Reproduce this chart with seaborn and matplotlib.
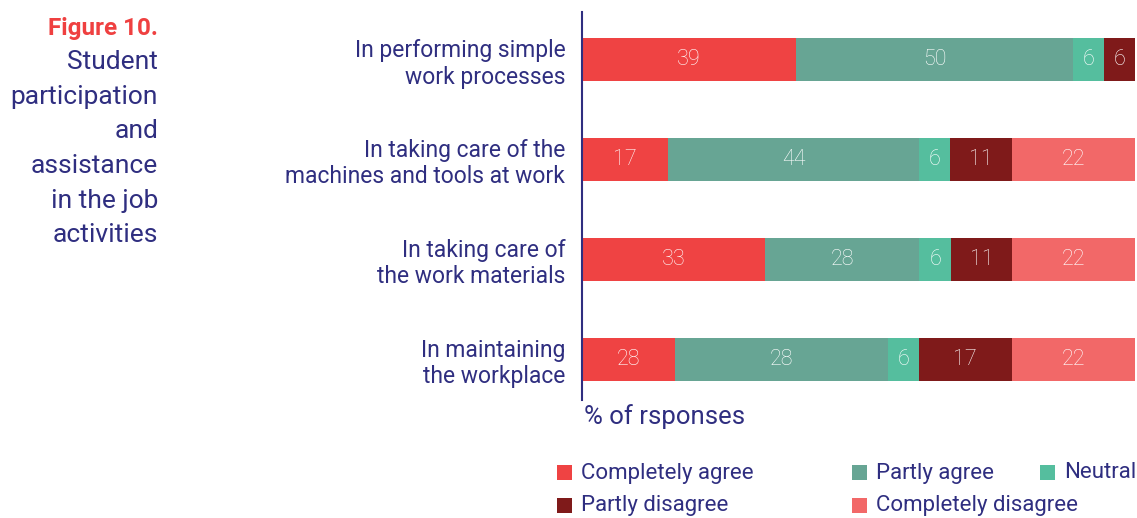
import matplotlib
matplotlib.use("Agg")
import matplotlib.pyplot as plt
from matplotlib.patches import Rectangle
import seaborn as sns
import pandas as pd
import numpy as np

# ---- data ----
categories = [
    "In performing simple\nwork processes",
    "In taking care of the\nmachines and tools at work",
    "In taking care of\nthe work materials",
    "In maintaining\nthe workplace",
]
series = ["Completely agree", "Partly agree", "Neutral", "Partly disagree", "Completely disagree"]
# segment widths as drawn in the picture (% of responses)
completely_agree = [38.7, 15.6, 33.1, 16.8]
partly_agree = [50.1, 45.4, 27.9, 38.5]
neutral = [5.6, 5.6, 5.8, 5.6]
partly_disagree = [5.6, 11.2, 10.9, 16.8]
completely_disagree = [0.0, 22.2, 22.3, 22.3]
# printed value labels
label_ca = ["39", "17", "33", "28"]
label_pa = ["50", "44", "28", "28"]
label_ne = ["6", "6", "6", "6"]
label_pd = ["6", "11", "11", "17"]
label_cd = ["", "22", "22", "22"]

colors = ["#EF4343", "#67A594", "#55BE9E", "#7F1A1A", "#F26868"]
navy = "#2F2E80"
red_title = "#EF4040"

sns.set_theme(style="white")
plt.rcParams["font.family"] = ["Roboto", "DejaVu Sans"]

values = [completely_agree, partly_agree, neutral, partly_disagree, completely_disagree]
labels = [label_ca, label_pa, label_ne, label_pd, label_cd]
cum = np.cumsum(np.array(values), axis=0)

fig = plt.figure(figsize=(11.37, 5.18), dpi=100)
ax = fig.add_axes([582 / 1137, 1 - 400 / 518, 553 / 1137, 388 / 518])

# overlay cumulative bars, largest first
for i in range(len(series) - 1, -1, -1):
    df = pd.DataFrame({"category": categories, "value": cum[i]})
    sns.barplot(data=df, x="value", y="category", orient="h", color=colors[i],
                width=0.43, saturation=1, ax=ax, linewidth=0)

for i in range(len(series)):
    for j in range(len(categories)):
        w = values[i][j]
        if w <= 0:
            continue
        ax.text(cum[i][j] - w / 2, j, labels[i][j], ha="center", va="center",
                color="white", fontsize=15.5, fontweight="light")

ax.set_xlim(0, 100)
ax.set_ylim(3.41, -0.475)
ax.set_xlabel("")
ax.set_ylabel("")
ax.set_xticks([])
for s in ["top", "right", "bottom"]:
    ax.spines[s].set_visible(False)
ax.spines["left"].set_color(navy)
ax.spines["left"].set_linewidth(1.5)
ax.tick_params(axis="y", length=0, pad=12, labelsize=16.5, labelcolor=navy)
for t in ax.get_yticklabels():
    t.set_fontweight("normal")
    t.set_linespacing(1.2)

# title block
fig.text(158 / 1137, 1 - 28 / 518, "Figure 10.", ha="right", va="center",
         color=red_title, fontsize=17.5, fontweight="bold")
title_lines = ["Student", "participation", "and", "assistance", "in the job", "activities"]
ys = [62, 97, 131, 166, 201, 235]
for line, yy in zip(title_lines, ys):
    fig.text(158 / 1137, 1 - yy / 518, line, ha="right", va="center",
             color=navy, fontsize=19, fontweight="normal")

fig.text(584 / 1137, 1 - 417 / 518, "% of rsponses", ha="left", va="center",
         color=navy, fontsize=18.5, fontweight="normal")

# legend (manual placement)
leg_pos = {
    "Completely agree": (557, 472),
    "Partly agree": (852, 472),
    "Neutral": (1040, 472),
    "Partly disagree": (557, 505),
    "Completely disagree": (852, 505),
}
for name, col in zip(series, colors):
    x0, yc = leg_pos[name]
    fig.add_artist(Rectangle((x0 / 1137, 1 - (yc + 8) / 518), 15 / 1137, 15 / 518,
                             transform=fig.transFigure, color=col, lw=0))
    fig.text((x0 + 24) / 1137, 1 - (yc + 1) / 518, name, ha="left", va="center",
             color=navy, fontsize=16, fontweight="normal")

fig.savefig("out.png", dpi=100)
